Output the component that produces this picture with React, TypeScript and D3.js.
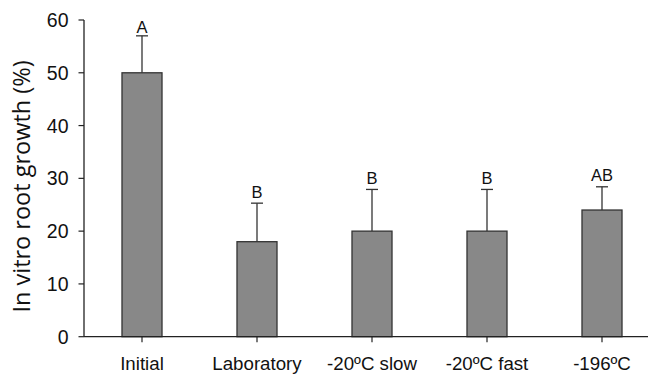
import React from "react";
import * as d3 from "d3";

const categories = ["Initial", "Laboratory", "-20ºC slow", "-20ºC fast", "-196ºC"];
const means = [50, 18, 20, 20, 24];
const errors = [7, 7.3, 7.9, 7.9, 4.4];
const letters = ["A", "B", "B", "B", "AB"];
const yTicks = [0, 10, 20, 30, 40, 50, 60];

const W = 648;
const H = 374;

export default function App() {
  const y = d3.scaleLinear().domain([0, 60]).range([336.7, 20]);
  const x = d3
    .scaleBand<string>()
    .domain(categories)
    .range([84.5, 659.5])
    .paddingInner(0.652)
    .paddingOuter(0.326);
  const bw = x.bandwidth();
  const axisColor = "#222";
  return (
    <svg width={W} height={H} style={{ display: "block", position: "absolute", left: 0, top: 0 }}>
      <rect width={W} height={H} fill="#fff" />
      {categories.map((c, i) => {
        const x0 = x(c)!;
        const cx = x0 + bw / 2;
        const top = y(means[i] + errors[i]);
        return (
          <g key={c}>
            <line x1={cx} x2={cx} y1={y(means[i])} y2={top} stroke="#333" strokeWidth={1.3} />
            <line x1={cx - 6} x2={cx + 6} y1={top} y2={top} stroke="#333" strokeWidth={1.3} />
            <rect
              x={x0}
              y={y(means[i])}
              width={bw}
              height={y(0) - y(means[i])}
              fill="#888888"
              stroke="#333"
              strokeWidth={1.3}
            />
            <text
              x={cx}
              y={top - (i === 0 ? 2.5 : 5.5)}
              textAnchor="middle"
              fontFamily="Liberation Sans, Arial, sans-serif"
              fontSize={16.5}
              fill="#111"
            >
              {letters[i]}
            </text>
            <line x1={cx} x2={cx} y1={y(0)} y2={y(0) + 5.5} stroke={axisColor} strokeWidth={1.2} />
            <text
              x={cx}
              y={369.5}
              textAnchor="middle"
              fontFamily="Liberation Sans, Arial, sans-serif"
              fontSize={18.7}
              fill="#111"
            >
              {c}
            </text>
          </g>
        );
      })}
      <line x1={84} x2={W} y1={y(0)} y2={y(0)} stroke={axisColor} strokeWidth={1.3} />
      <line x1={84} x2={84} y1={y(60)} y2={y(0)} stroke={axisColor} strokeWidth={1.3} />
      {yTicks.map((t) => (
        <g key={t}>
          <line x1={78.5} x2={84} y1={y(t)} y2={y(t)} stroke={axisColor} strokeWidth={1.2} />
          <text
            x={68.5}
            y={y(t)}
            dy="0.36em"
            textAnchor="end"
            fontFamily="Liberation Sans, Arial, sans-serif"
            fontSize={19.5}
            fill="#111"
          >
            {t}
          </text>
        </g>
      ))}
      <text
        transform={`translate(30,186.5) rotate(-90)`}
        textAnchor="middle"
        fontFamily="Open Sans, sans-serif"
        fontSize={23.5}
        fill="#111"
      >
        In vitro root growth (%)
      </text>
    </svg>
  );
}
